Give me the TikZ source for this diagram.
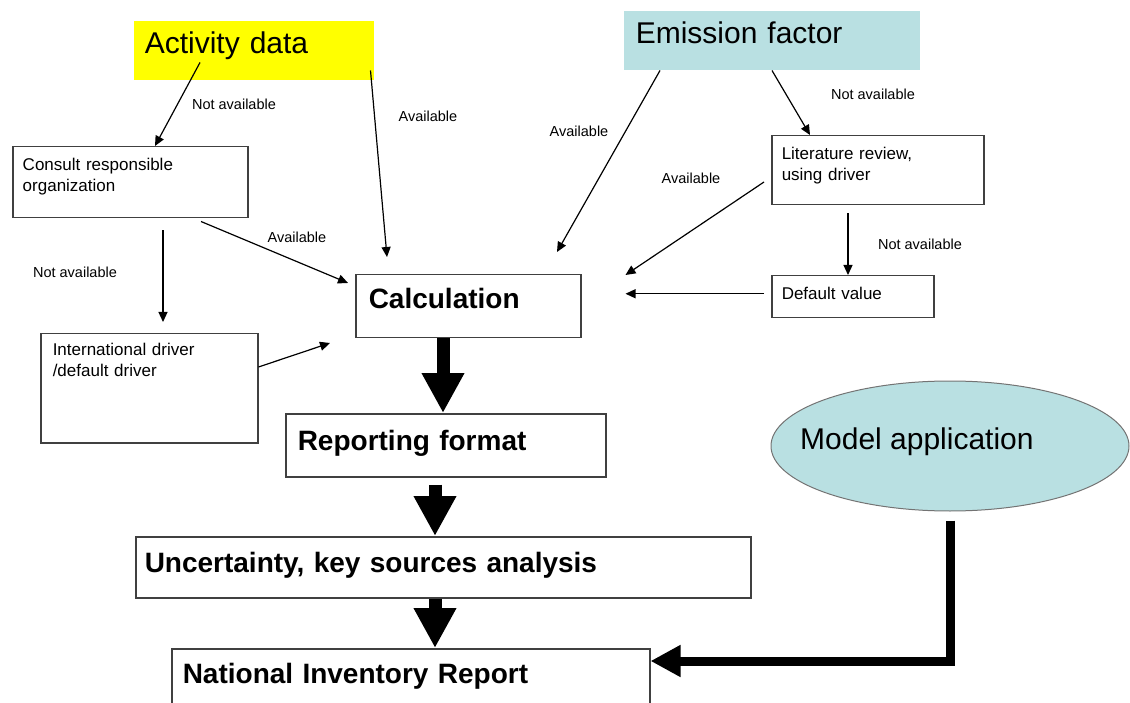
\documentclass[tikz,border=0pt]{standalone}
\usepackage{fontspec}
\setmainfont{Liberation Sans}
\usetikzlibrary{arrows.meta, positioning, shapes.geometric}
\definecolor{adyellow}{RGB}{255,255,0}
\definecolor{efblue}{RGB}{185,224,226}
\tikzset{
  box/.style={draw=black!75, line width=1.5pt, anchor=north west, inner ysep=0pt, align=left},
  head/.style={box, draw=none, font=\fontsize{30}{36}\selectfont},
  stage/.style={box, font=\fontsize{28}{34}\selectfont\bfseries},
  smallbox/.style={box, inner xsep=10pt, font=\fontsize{17}{21}\selectfont},
  lbl/.style={inner sep=0pt, font=\fontsize{14.5}{16}\selectfont},
  arrow/.style={-{Triangle[length=10pt,width=9pt]}, line width=1.2pt},
  bigarrow/.style={-{Triangle[length=40pt,width=40pt]}, line width=13pt},
  modelarrow/.style={-{Triangle[length=30pt,width=30pt]}, line width=9pt}
}

\begin{document}
\begin{tikzpicture}[x=1pt, y=-1pt]
  \clip (0,0) rectangle (1130,703);

  % sources
  \node[head, fill=adyellow, inner xsep=11pt, text width=218pt, text height=33pt, text depth=26pt] (act) at (133,20) {Activity data};
  \node[head, fill=efblue, inner xsep=12pt, text width=272pt, text height=33pt, text depth=26pt] (emis) at (623,10) {Emission factor};

  % fallback boxes
  \node[smallbox, text width=215pt, text height=24pt, text depth=47pt] (consult) at (12,146) {Consult responsible\\organization};
  \node[smallbox, inner xsep=12pt, text width=193pt, text height=22pt, text depth=87pt] (intl) at (40,333) {International driver\\/default driver};
  \node[smallbox, text width=192pt, text height=24pt, text depth=45pt] (lit) at (771,135) {Literature review,\\using driver};
  \node[smallbox, text width=142pt, text height=24pt, text depth=18pt] (dflt) at (771,275) {Default value};

  % main chain
  \node[stage, inner xsep=13pt, text width=199pt, text height=34pt, text depth=29pt] (calc) at (355,274) {Calculation};
  \node[stage, inner xsep=12pt, text width=296pt, text height=37pt, text depth=26pt] (rep) at (285,413) {Reporting format};
  \node[stage, inner xsep=9pt, text width=597pt, text height=36pt, text depth=25pt] (unc) at (135,536) {Uncertainty, key sources analysis};
  \node[stage, inner xsep=11pt, text width=456pt, text height=35pt, text depth=25pt] (nir) at (171,648) {National Inventory Report};

  \node[ellipse, draw=black!55, line width=1pt, fill=efblue, minimum width=358pt, minimum height=130pt, inner sep=0pt] (model) at (950,446) {};
  \node[anchor=west, inner sep=0pt, font=\fontsize{30}{36}\selectfont] (modeltxt) at ([xshift=-150pt,yshift=4pt]model.center) {Model application};

  % activity data side
  \draw[arrow] ([xshift=67pt,yshift=18pt]act.south west) -- ([xshift=143pt]consult.north west);
  \draw[arrow] ([xshift=-4pt,yshift=10pt]act.south east) -- ([xshift=32pt,yshift=17pt]calc.north west);
  \draw[arrow] ([xshift=189pt,yshift=-3pt]consult.south west) -- ([xshift=-7pt,yshift=-9pt]calc.north west);
  \draw[arrow] ([xshift=151pt,yshift=-12pt]consult.south west) -- ([xshift=123pt,yshift=11pt]intl.north west);
  \draw[arrow] ([yshift=-34pt]intl.north east) -- ([xshift=-25pt,yshift=-69pt]calc.north west);

  % emission factor side
  \draw[arrow] ([xshift=37pt]emis.south west) -- ([xshift=202pt,yshift=22pt]calc.north west);
  \draw[arrow] ([xshift=149pt]emis.south west) -- ([xshift=39pt]lit.north west);
  \draw[arrow] ([xshift=-7pt,yshift=-47pt]lit.north west) -- ([xshift=44pt,yshift=-1pt]calc.north east);
  \draw[arrow] ([xshift=77pt,yshift=-8pt]lit.south west) -- ([xshift=77pt]dflt.north west);
  \draw[arrow] ([xshift=-7pt,yshift=3pt]dflt.west) -- ([xshift=44pt,yshift=12.5pt]calc.east);

  \node[lbl] (na1) at (234,104) {Not available};
  \node[lbl] (av1) at (428,116) {Available};
  \node[lbl] (av2) at (297,237) {Available};
  \node[lbl] (na2) at (75,272) {Not available};
  \node[lbl] (av3) at (579,131) {Available};
  \node[lbl] (na3) at (873,94) {Not available};
  \node[lbl] (av4) at (691,178) {Available};
  \node[lbl] (na4) at (920,244) {Not available};

  % reporting chain
  \draw[bigarrow] ([xshift=88pt]calc.south west) -- ([xshift=158pt]rep.north west);
  \draw[bigarrow] ([xshift=150pt,yshift=-7pt]rep.south west) -- ([xshift=300pt]unc.north west);
  \draw[bigarrow] ([xshift=300pt]unc.south west) -- ([xshift=264pt]nir.north west);
  \draw[modelarrow] ([yshift=-9pt]model.south) |- ([yshift=-13pt]nir.north east);
\end{tikzpicture}
\end{document}
